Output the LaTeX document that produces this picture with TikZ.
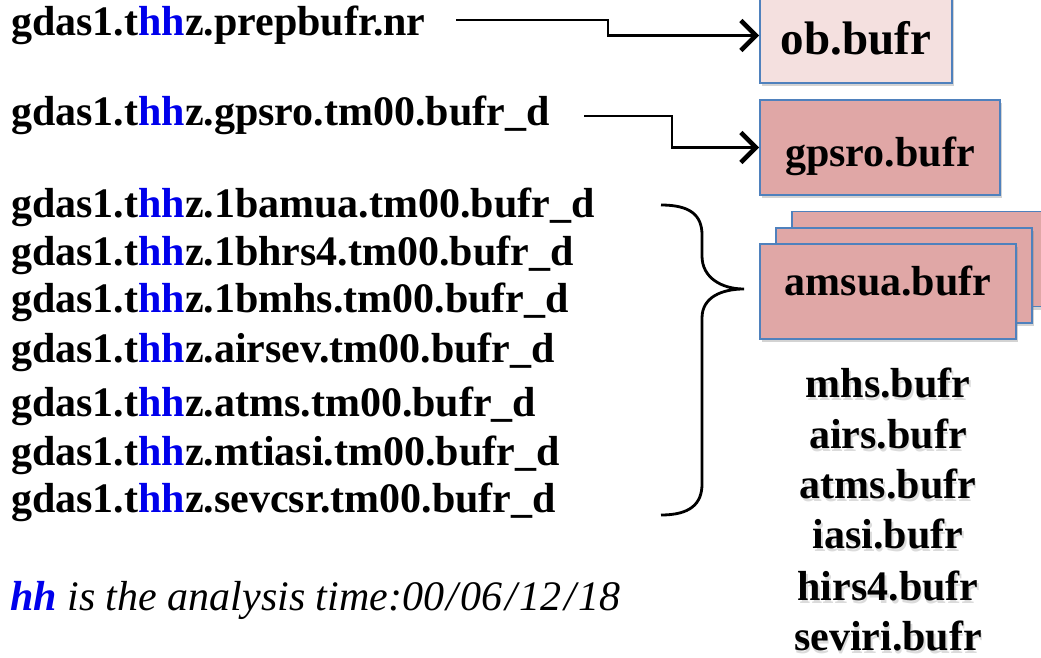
\documentclass[tikz,border=0pt]{standalone}
\usepackage{fontspec}
\setmainfont{Liberation Serif}
\usetikzlibrary{arrows.meta,shadows}
\definecolor{hhblue}{RGB}{0,0,235}
\definecolor{boxline}{RGB}{79,129,189}
\definecolor{lightpink}{RGB}{244,224,223}
\definecolor{darkpink}{RGB}{224,167,166}
\newcommand{\hh}{\textcolor{hhblue}{hh}}
\newcommand{\textshadow}[1]{\rlap{\kern1.5pt\raisebox{-3pt}{\textcolor{black!14}{#1}}}#1}
\newcommand{\sep}{\kern2.5pt/\kern2.5pt}

\begin{document}
\begin{tikzpicture}
[
    x = 1pt, y = -1pt,
    every node/.style = {font = \fontsize{42}{50}\selectfont\bfseries, inner sep = 0pt},
    file/.style = {anchor = base west},
    bufr/.style = {draw = boxline, line width = 1.8pt, fill = darkpink, minimum height = 95pt,
        drop shadow = {shadow xshift = 2pt, shadow yshift = -3pt, opacity = 0.35}},
    listed/.style = {anchor = base},
    flow/.style = {line width = 2.4pt, -{Straight Barb[length = 15pt, width = 30pt, line width = 4.5pt]}},
]
\useasboundingbox (0,0) rectangle (1041,658);

\node[file] (prep)   at (11,36)  {gdas1.t\hh z.prepbufr.nr};
\node[file] (gps)    at (11,125) {gdas1.t\hh z.gpsro.tm00.bufr\_d};
\node[file] (amua)   at (11,217) {gdas1.t\hh z.1bamua.tm00.bufr\_d};
\node[file] (hrs)    at (11,265) {gdas1.t\hh z.1bhrs4.tm00.bufr\_d};
\node[file] (mhs)    at (11,312) {gdas1.t\hh z.1bmhs.tm00.bufr\_d};
\node[file] (airs)   at (11,362) {gdas1.t\hh z.airsev.tm00.bufr\_d};
\node[file] (atms)   at (11,416) {gdas1.t\hh z.atms.tm00.bufr\_d};
\node[file] (iasi)   at (11,465) {gdas1.t\hh z.mtiasi.tm00.bufr\_d};
\node[file] (sevcsr) at (11,512) {gdas1.t\hh z.sevcsr.tm00.bufr\_d};

\node[file, font = \fontsize{42}{50}\selectfont\itshape] (note) at (10,610)
    {\textbf{\hh} is the analysis time:00\sep 06\sep 12\sep 18};

\node[bufr, fill = lightpink, minimum width = 192pt, text height = 44pt, text depth = 5pt,
    font = \fontsize{47}{50}\selectfont\bfseries] (ob) at (856,35.5) {ob.bufr};
\node[bufr, minimum width = 240pt, text height = 42pt, text depth = 5pt] (gpsbufr) at (880,147.5) {gpsro.bufr};
\node[bufr, minimum width = 256pt] (back) at (920,259) {};
\node[bufr, minimum width = 256pt] (mid) at (904,275.5) {};
\node[bufr, minimum width = 256pt, text height = 30pt, text depth = 23pt] (amsua) at (888,291.5) {amsua.bufr};

\node[listed] (l1) at (888,397) {\textshadow{mhs.bufr}};
\node[listed] (l2) at (888,448) {\textshadow{airs.bufr}};
\node[listed] (l3) at (888,498) {\textshadow{atms.bufr}};
\node[listed] (l4) at (888,548) {\textshadow{iasi.bufr}};
\node[listed] (l5) at (888,600) {\textshadow{hirs4.bufr}};
\node[listed] (l6) at (888,650) {\textshadow{seviri.bufr}};

\coordinate (prepout) at (456,20);
\coordinate (gpsout) at (584,116);
\draw[flow] (prepout) -- ++(152,0) |- (ob.west);
\draw[flow] (gpsout) -- ++(88,0) |- (gpsbufr.west);

\draw[line width = 2.8pt]
    (661,205) .. controls (690,205) and (702,215) .. (702,235) -- (702,256)
    .. controls (702,278) and (722,289) .. (744,289)
    .. controls (722,289) and (702,297) .. (702,318) -- (702,484)
    .. controls (702,504) and (690,515) .. (661,515);
\end{tikzpicture}
\end{document}
